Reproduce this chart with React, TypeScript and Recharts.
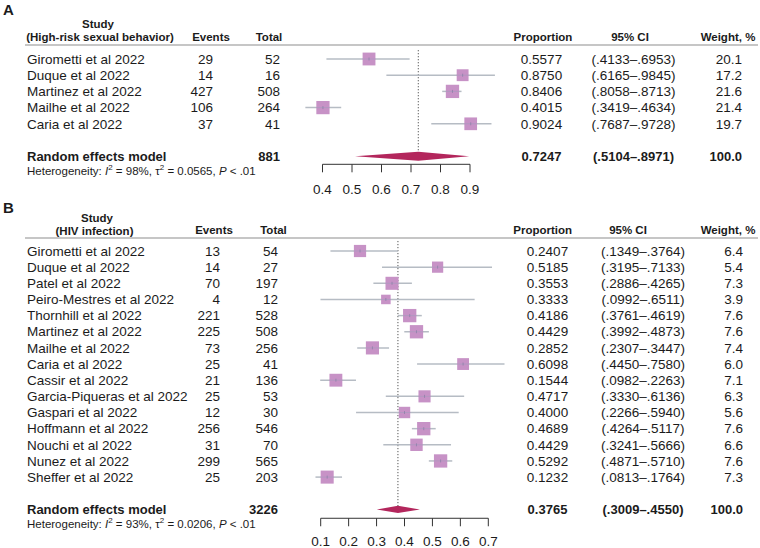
import React from "react";
import {
  ScatterChart,
  Scatter,
  XAxis,
  YAxis,
  ErrorBar,
  ReferenceLine,
  ReferenceArea,
} from "recharts";

const FONT = "'Liberation Sans', Arial, Helvetica, sans-serif";
const INK = "#1b1b1b";
const SQUARE = "#C792C6";
const DIAMOND = "#B3265C";
const CI_LINE = "#B6BCC4";

// ---- Panel A: high-risk sexual behavior
const studiesA = [
  "Girometti et al 2022",
  "Duque et al 2022",
  "Martinez et al 2022",
  "Mailhe et al 2022",
  "Caria et al 2022",
];
const eventsA = [29, 14, 427, 106, 37];
const totalsA = [52, 16, 508, 264, 41];
const propA = [0.5577, 0.875, 0.8406, 0.4015, 0.9024];
const lowerA = [0.4133, 0.6165, 0.8058, 0.3419, 0.7687];
const upperA = [0.6953, 0.9845, 0.8713, 0.4634, 0.9728];
const weightA = [20.1, 17.2, 21.6, 21.4, 19.7];
const pooledA = [0.7247, 0.5104, 0.8971];
const pooledTotalA = 881;
const hetA = ["98%", "0.0565", ".01"];
const ticksA = [0.4, 0.5, 0.6, 0.7, 0.8, 0.9];

// ---- Panel B: HIV infection
const studiesB = [
  "Girometti et al 2022",
  "Duque et al 2022",
  "Patel et al 2022",
  "Peiro-Mestres et al 2022",
  "Thornhill et al 2022",
  "Martinez et al 2022",
  "Mailhe et al 2022",
  "Caria et al 2022",
  "Cassir et al 2022",
  "Garcia-Piqueras et al 2022",
  "Gaspari et al 2022",
  "Hoffmann et al 2022",
  "Nouchi et al 2022",
  "Nunez et al 2022",
  "Sheffer et al 2022",
];
const eventsB = [13, 14, 70, 4, 221, 225, 73, 25, 21, 25, 12, 256, 31, 299, 25];
const totalsB = [54, 27, 197, 12, 528, 508, 256, 41, 136, 53, 30, 546, 70, 565, 203];
const propB = [
  0.2407, 0.5185, 0.3553, 0.3333, 0.4186, 0.4429, 0.2852, 0.6098, 0.1544, 0.4717,
  0.4, 0.4689, 0.4429, 0.5292, 0.1232,
];
const lowerB = [
  0.1349, 0.3195, 0.2886, 0.0992, 0.3761, 0.3992, 0.2307, 0.445, 0.0982, 0.333,
  0.2266, 0.4264, 0.3241, 0.4871, 0.0813,
];
const upperB = [
  0.3764, 0.7133, 0.4265, 0.6511, 0.4619, 0.4873, 0.3447, 0.758, 0.2263, 0.6136,
  0.594, 0.5117, 0.5666, 0.571, 0.1764,
];
const weightB = [6.4, 5.4, 7.3, 3.9, 7.6, 7.6, 7.4, 6.0, 7.1, 6.3, 5.6, 7.6, 6.6, 7.6, 7.3];
const pooledB = [0.3765, 0.3009, 0.455];
const pooledTotalB = 3226;
const hetB = ["93%", "0.0206", ".01"];
const ticksB = [0.1, 0.2, 0.3, 0.4, 0.5, 0.6, 0.7];

const ci = (lo: number, hi: number) =>
  `(${lo.toFixed(4).slice(1)}\u2013${hi.toFixed(4).slice(1)})`;

type Geo = {
  top: number;
  height: number;
  yDomain: [number, number];
  xDomain: [number, number];
  mTop: number;
  mBottom: number;
  mLeft: number;
  mRight: number;
  xAxisH: number;
  tickMargin: number;
  poolRow: number;
  refTop: number;
  refBottom: number;
  diamondHalf: number;
  hetGap: number;
  col: { events: number; total: number; prop: number; ci: number; weight: number };
  hdr: { events: number; total: number; prop: number; ci: number; weight: number };
  labelY: number;
  studyY: number;
  subY: number;
  colY: number;
  lineY: number;
  studyX: number;
  subX: number;
};

type PanelProps = {
  label: string;
  subgroup: string;
  studies: string[];
  events: number[];
  totals: number[];
  prop: number[];
  lower: number[];
  upper: number[];
  weight: number[];
  pooled: number[];
  pooledTotal: number;
  het: string[];
  ticks: number[];
  geo: Geo;
};

function ForestPanel(p: PanelProps) {
  const g = p.geo;
  const maxW = Math.max(...p.weight);
  const data = p.studies.map((s, i) => ({
    x: p.prop[i],
    y: i,
    err: [p.prop[i] - p.lower[i], p.upper[i] - p.prop[i]],
    w: p.weight[i],
  }));
  const rowTicks = p.studies.map((_, i) => i).concat([g.poolRow]);

  const renderSquare = (props: any) => {
    const { cx, cy, payload } = props;
    const s = 13.3 * Math.sqrt(payload.w / maxW);
    return (
      <g>
        <rect x={cx - s / 2} y={cy - s / 2} width={s} height={s} fill={SQUARE} />
        <line x1={cx - s / 2} x2={cx + s / 2} y1={cy} y2={cy} stroke="#A99BBE" strokeWidth={0.7} />
        <line x1={cx} x2={cx} y1={cy - 1.5} y2={cy + 1.5} stroke="#8E80A8" strokeWidth={0.8} />
      </g>
    );
  };

  const renderDiamond = (props: any) => {
    const { x, y, width, height } = props;
    const f = (p.pooled[0] - p.pooled[1]) / (p.pooled[2] - p.pooled[1]);
    const mx = x + width * f;
    const pts = `${x},${y + height / 2} ${mx},${y} ${x + width},${y + height / 2} ${mx},${y + height}`;
    return <polygon points={pts} fill={DIAMOND} />;
  };

  const renderRow = (props: any) => {
    const { y, payload } = props;
    const r = payload.value;
    const num = { fontFamily: FONT, fontSize: 13.5, fill: INK } as const;
    if (r === g.poolRow) {
      const bold = { ...num, fontSize: 13, fontWeight: 700 } as const;
      const hy = y + g.hetGap;
      return (
        <g>
          <text x={27} y={y} dy="0.35em" {...bold}>Random effects model</text>
          <text x={g.col.total} y={y} dy="0.35em" textAnchor="end" {...bold}>{p.pooledTotal}</text>
          <text x={g.col.prop} y={y} dy="0.35em" textAnchor="middle" {...bold}>{p.pooled[0].toFixed(4)}</text>
          <text x={g.col.ci} y={y} dy="0.35em" textAnchor="middle" {...bold}>{ci(p.pooled[1], p.pooled[2])}</text>
          <text x={g.col.weight} y={y} dy="0.35em" textAnchor="end" {...bold}>100.0</text>
          <text x={27} y={hy + 4} fontFamily={FONT} fontSize={11.5} fill={INK}>
            Heterogeneity: <tspan fontStyle="italic">I</tspan>
            <tspan dy={-4.5} fontSize={8}>2</tspan>
            <tspan dy={4.5}> = {p.het[0]}, τ</tspan>
            <tspan dy={-4.5} fontSize={8}>2</tspan>
            <tspan dy={4.5}> = {p.het[1]}, </tspan>
            <tspan fontStyle="italic">P</tspan>
            <tspan> &lt; {p.het[2]}</tspan>
          </text>
        </g>
      );
    }
    const i = r as number;
    return (
      <g>
        <text x={27} y={y} dy="0.35em" {...num}>{p.studies[i]}</text>
        <text x={g.col.events} y={y} dy="0.35em" textAnchor="end" {...num}>{p.events[i]}</text>
        <text x={g.col.total} y={y} dy="0.35em" textAnchor="end" {...num}>{p.totals[i]}</text>
        <text x={g.col.prop} y={y} dy="0.35em" textAnchor="middle" {...num}>{p.prop[i].toFixed(4)}</text>
        <text x={g.col.ci} y={y} dy="0.35em" textAnchor="middle" {...num}>{ci(p.lower[i], p.upper[i])}</text>
        <text x={g.col.weight} y={y} dy="0.35em" textAnchor="end" {...num}>{p.weight[i].toFixed(1)}</text>
      </g>
    );
  };

  const hdr = { fontFamily: FONT, fontSize: 11.5, fontWeight: 700, fill: INK } as const;
  const tMin = p.ticks[0];
  const tMax = p.ticks[p.ticks.length - 1];

  return (
    <div style={{ position: "absolute", left: 0, top: g.top, width: 760, height: g.height }}>
      <ScatterChart
        width={760}
        height={g.height}
        margin={{ top: g.mTop, bottom: g.mBottom, left: g.mLeft, right: g.mRight }}
      >
        <XAxis
          type="number"
          dataKey="x"
          domain={g.xDomain}
          ticks={p.ticks}
          interval={0}
          height={g.xAxisH}
          axisLine={false}
          tickLine={{ stroke: "#333", strokeWidth: 1 }}
          tickSize={8}
          tickMargin={g.tickMargin}
          tickFormatter={(v: number) => v.toFixed(1)}
          tick={{ fontFamily: FONT, fontSize: 13.5, fill: INK }}
        />
        <YAxis
          type="number"
          dataKey="y"
          domain={g.yDomain}
          reversed
          ticks={rowTicks}
          interval={0}
          width={20}
          axisLine={false}
          tickLine={false}
          tick={renderRow}
        />
        <ReferenceLine
          segment={[
            { x: p.pooled[0], y: g.refTop },
            { x: p.pooled[0], y: g.refBottom },
          ]}
          stroke="#555"
          strokeWidth={1}
          strokeDasharray="1.2 1.8"
        />
        <ReferenceLine
          segment={[
            { x: tMin, y: g.yDomain[1] },
            { x: tMax, y: g.yDomain[1] },
          ]}
          stroke="#333"
          strokeWidth={1}
          ifOverflow="visible"
        />
        <ReferenceArea
          x1={p.pooled[1]}
          x2={p.pooled[2]}
          y1={g.poolRow - g.diamondHalf}
          y2={g.poolRow + g.diamondHalf}
          shape={renderDiamond}
        />
        <Scatter data={data} shape={renderSquare} isAnimationActive={false}>
          <ErrorBar dataKey="err" direction="x" width={0} stroke={CI_LINE} strokeWidth={1.5} />
        </Scatter>
      </ScatterChart>
      <svg
        width={760}
        height={g.height}
        style={{ position: "absolute", left: 0, top: 0, pointerEvents: "none" }}
      >
        <text x={3} y={g.labelY} fontFamily={FONT} fontSize={15} fontWeight={700} fill={INK}>{p.label}</text>
        <text x={g.studyX} y={g.studyY} textAnchor="middle" {...hdr}>Study</text>
        <text x={g.subX} y={g.subY} textAnchor="middle" {...hdr}>{p.subgroup}</text>
        <text x={g.hdr.events} y={g.colY} textAnchor="middle" {...hdr}>Events</text>
        <text x={g.hdr.total} y={g.colY} textAnchor="middle" {...hdr}>Total</text>
        <text x={g.hdr.prop} y={g.colY} textAnchor="middle" {...hdr}>Proportion</text>
        <text x={g.hdr.ci} y={g.colY} textAnchor="middle" {...hdr}>95% CI</text>
        <text x={g.hdr.weight} y={g.colY} textAnchor="middle" {...hdr}>Weight, %</text>
        <line x1={25} x2={758} y1={g.lineY} y2={g.lineY} stroke="#8E8E8E" strokeWidth={1.2} />
      </svg>
    </div>
  );
}

const geoA: Geo = {
  top: 0,
  height: 200,
  yDomain: [-2, 6.5],
  xDomain: [0.2, 1.1],
  mTop: 26.6,
  mBottom: 5.7,
  mLeft: 243.5,
  mRight: 231,
  xAxisH: 30,
  tickMargin: 12,
  poolRow: 6,
  refTop: -0.55,
  refBottom: 5.74,
  diamondHalf: 0.28,
  hetGap: 14.5,
  col: { events: 213, total: 280, prop: 541.5, ci: 633.5, weight: 742 },
  hdr: { events: 211, total: 269, prop: 543, ci: 630, weight: 728 },
  labelY: 14.6,
  studyY: 28,
  subY: 41,
  colY: 41,
  lineY: 45,
  studyX: 98,
  subX: 100,
};

const geoB: Geo = {
  top: 200,
  height: 348,
  yDomain: [-1.5, 16.55],
  xDomain: [-0.1, 0.9],
  mTop: 26.78,
  mBottom: 1.72,
  mLeft: 244.83,
  mRight: 215.83,
  xAxisH: 28,
  tickMargin: 10,
  poolRow: 16,
  refTop: -0.62,
  refBottom: 15.79,
  diamondHalf: 0.23,
  hetGap: 14.5,
  col: { events: 220, total: 278, prop: 547.5, ci: 643, weight: 743 },
  hdr: { events: 214, total: 273.5, prop: 542.7, ci: 628, weight: 728 },
  labelY: 13.4,
  studyY: 22.4,
  subY: 35,
  colY: 34,
  lineY: 38,
  studyX: 97,
  subX: 94.5,
};

export default function App() {
  return (
    <div style={{ position: "absolute", left: 0, top: 0, width: 760, height: 548, background: "#fff" }}>
      <ForestPanel
        label="A"
        subgroup="(High-risk sexual behavior)"
        studies={studiesA}
        events={eventsA}
        totals={totalsA}
        prop={propA}
        lower={lowerA}
        upper={upperA}
        weight={weightA}
        pooled={pooledA}
        pooledTotal={pooledTotalA}
        het={hetA}
        ticks={ticksA}
        geo={geoA}
      />
      <ForestPanel
        label="B"
        subgroup="(HIV infection)"
        studies={studiesB}
        events={eventsB}
        totals={totalsB}
        prop={propB}
        lower={lowerB}
        upper={upperB}
        weight={weightB}
        pooled={pooledB}
        pooledTotal={pooledTotalB}
        het={hetB}
        ticks={ticksB}
        geo={geoB}
      />
    </div>
  );
}
